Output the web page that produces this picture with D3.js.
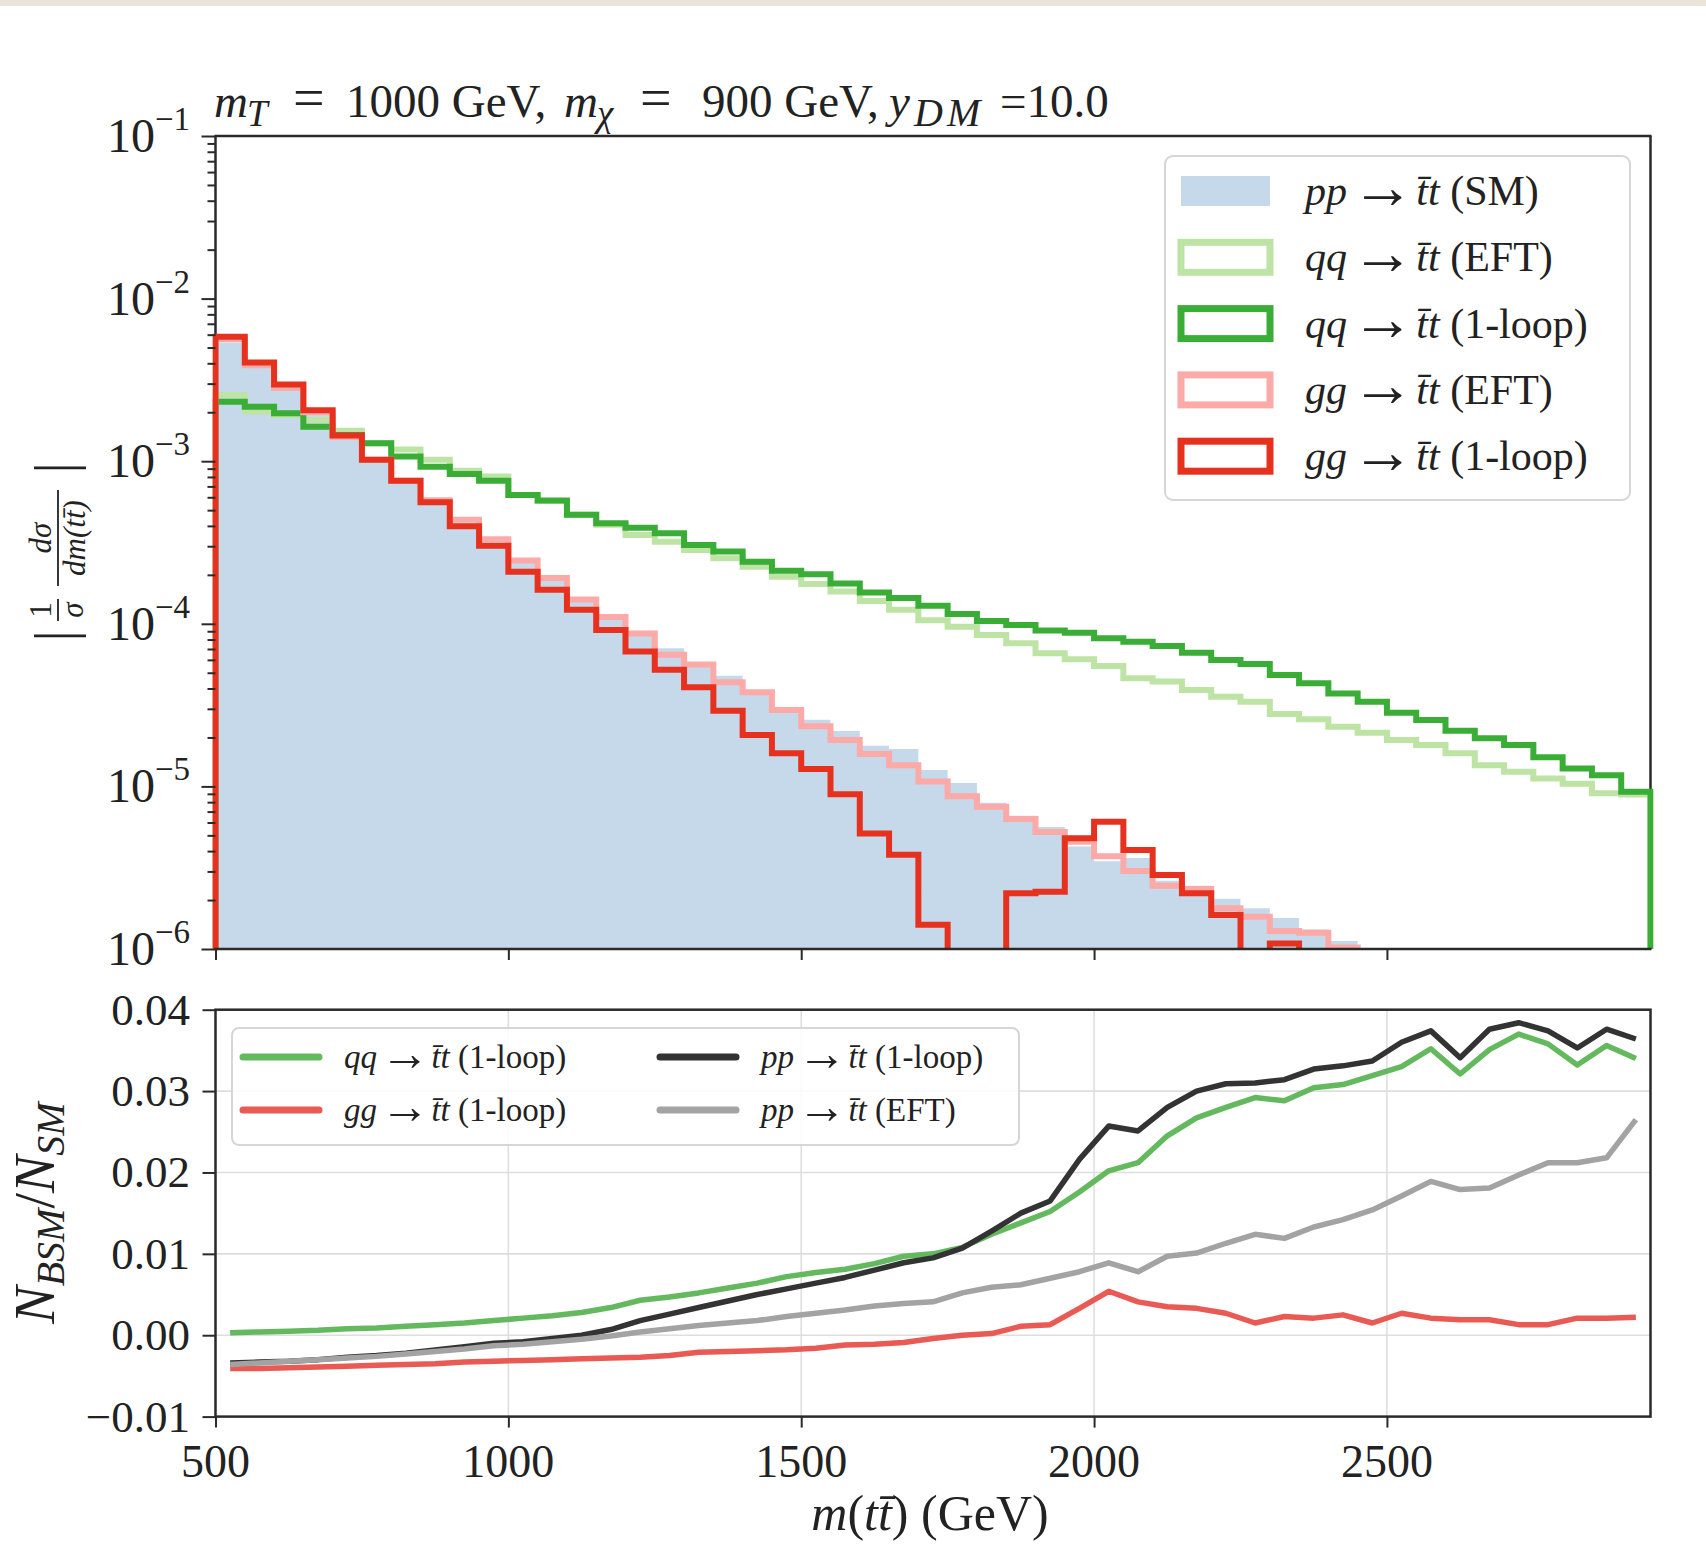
<!DOCTYPE html>
<html>
<head>
<meta charset="utf-8">
<script src="https://cdn.jsdelivr.net/npm/d3@7"></script>
<style>
  body { margin: 0; background: #ffffff; }
  svg { display: block; }
  text { font-family: "Liberation Serif", "DejaVu Serif", serif; fill: #222; }
  .it { font-style: italic; }
</style>
</head>
<body>
<svg id="chart" width="1706" height="1565"></svg>
<script>
// m(tt) binning: 50 GeV bins from 500 to 2950 GeV
const binEdges = d3.range(500, 2951, 50);
const binCenters = d3.range(525, 2950, 50);

// Normalised distributions |1/sigma dsigma/dm(tt)| per bin (0 = empty bin)
const smHist = [5.37e-3, 3.89e-3, 2.82e-3, 2.00e-3, 1.38e-3, 1.00e-3, 7.41e-4, 5.50e-4, 4.17e-4, 3.16e-4,
  2.40e-4, 1.86e-4, 1.41e-4, 1.12e-4, 8.71e-5, 7.08e-5, 5.62e-5, 4.79e-5, 3.80e-5, 3.02e-5,
  2.57e-5, 2.19e-5, 1.78e-5, 1.70e-5, 1.26e-5, 1.05e-5, 7.94e-6, 6.61e-6, 5.62e-6, 4.27e-6,
  3.47e-6, 3.63e-6, 2.63e-6, 2.45e-6, 2.04e-6, 1.78e-6, 1.55e-6, 1.32e-6, 1.12e-6, 0,
  0, 0, 0, 0, 0, 0, 0, 0, 0];
const qqEFT = [2.55e-3, 2.02e-3, 1.92e-3, 1.79e-3, 1.54e-3, 1.29e-3, 1.18e-3, 1.02e-3, 8.75e-4, 8.04e-4,
  6.19e-4, 5.69e-4, 4.68e-4, 4.07e-4, 3.52e-4, 3.20e-4, 2.84e-4, 2.53e-4, 2.24e-4, 1.95e-4,
  1.76e-4, 1.58e-4, 1.38e-4, 1.22e-4, 1.05e-4, 9.59e-5, 8.53e-5, 7.59e-5, 6.59e-5, 6.05e-5,
  5.50e-5, 4.62e-5, 4.41e-5, 3.92e-5, 3.56e-5, 3.32e-5, 2.79e-5, 2.59e-5, 2.33e-5, 2.14e-5,
  1.93e-5, 1.80e-5, 1.60e-5, 1.35e-5, 1.23e-5, 1.12e-5, 1.04e-5, 9.06e-6, 8.91e-6];
const qqLoop = [2.32e-3, 2.16e-3, 1.97e-3, 1.63e-3, 1.45e-3, 1.29e-3, 1.07e-3, 9.25e-4, 8.34e-4, 7.59e-4,
  6.19e-4, 5.74e-4, 4.69e-4, 4.15e-4, 3.89e-4, 3.60e-4, 3.05e-4, 2.78e-4, 2.41e-4, 2.12e-4,
  2.02e-4, 1.77e-4, 1.56e-4, 1.44e-4, 1.29e-4, 1.15e-4, 1.04e-4, 9.84e-5, 9.08e-5, 8.81e-5,
  8.15e-5, 7.76e-5, 7.29e-5, 6.64e-5, 5.98e-5, 5.65e-5, 4.84e-5, 4.31e-5, 3.73e-5, 3.32e-5,
  2.84e-5, 2.56e-5, 2.20e-5, 1.98e-5, 1.80e-5, 1.51e-5, 1.29e-5, 1.17e-5, 9.27e-6];
const ggEFT = [5.62e-3, 3.89e-3, 2.82e-3, 2.00e-3, 1.41e-3, 1.02e-3, 7.59e-4, 5.75e-4, 4.37e-4, 3.31e-4,
  2.45e-4, 1.91e-4, 1.41e-4, 1.10e-4, 8.71e-5, 6.46e-5, 5.62e-5, 4.37e-5, 3.80e-5, 2.95e-5,
  2.34e-5, 1.93e-5, 1.58e-5, 1.35e-5, 1.07e-5, 8.71e-6, 7.50e-6, 6.31e-6, 5.25e-6, 4.57e-6,
  3.72e-6, 3.02e-6, 2.45e-6, 2.34e-6, 1.78e-6, 1.58e-6, 1.29e-6, 1.26e-6, 1.02e-6, 0,
  0, 0, 0, 0, 0, 0, 0, 0, 0];
const ggLoop = [5.83e-3, 4.04e-3, 2.96e-3, 2.06e-3, 1.44e-3, 1.02e-3, 7.59e-4, 5.60e-4, 3.98e-4, 3.02e-4,
  2.09e-4, 1.62e-4, 1.22e-4, 9.16e-5, 6.75e-5, 5.22e-5, 4.07e-5, 2.92e-5, 2.07e-5, 1.60e-5,
  1.28e-5, 8.95e-6, 5.14e-6, 3.80e-6, 1.41e-6, 0, 0, 2.20e-6, 2.25e-6, 4.80e-6,
  6.07e-6, 4.06e-6, 2.85e-6, 2.20e-6, 1.62e-6, 0, 1.08e-6, 0, 0, 0,
  0, 0, 0, 0, 0, 0, 0, 0, 0];

// Ratio N_BSM / N_SM at bin centres
const ratioQQLoop = [0.0003, 0.0004, 0.0005, 0.0006, 0.0008, 0.0009, 0.0011, 0.0013, 0.0015, 0.0018,
  0.0021, 0.0024, 0.0028, 0.0034, 0.0043, 0.0047, 0.0052, 0.0058, 0.0064, 0.0072,
  0.0077, 0.0081, 0.0088, 0.0097, 0.0100, 0.0108, 0.0124, 0.0138, 0.0152, 0.0176,
  0.0202, 0.0212, 0.0245, 0.0267, 0.0280, 0.0292, 0.0288, 0.0304, 0.0308, 0.0319,
  0.0330, 0.0352, 0.0321, 0.0351, 0.0370, 0.0358, 0.0332, 0.0356, 0.0340];
const ratioGGLoop = [-0.0041, -0.0041, -0.0040, -0.0039, -0.0038, -0.0037, -0.0036, -0.0035, -0.0033, -0.0032,
  -0.0031, -0.0030, -0.0029, -0.0028, -0.0027, -0.0025, -0.0021, -0.0020, -0.0019, -0.0018,
  -0.0016, -0.0012, -0.0011, -0.0009, -0.0004, 0.0000, 0.0002, 0.0011, 0.0013, 0.0033,
  0.0054, 0.0041, 0.0035, 0.0033, 0.0027, 0.0015, 0.0023, 0.0021, 0.0025, 0.0015,
  0.0027, 0.0021, 0.0019, 0.0019, 0.0013, 0.0013, 0.0021, 0.0021, 0.0022];
const ratioPPLoop = [-0.0034, -0.0033, -0.0032, -0.0030, -0.0027, -0.0025, -0.0022, -0.0018, -0.0014, -0.0010,
  -0.0008, -0.0004, 0.0000, 0.0007, 0.0018, 0.0026, 0.0034, 0.0042, 0.0050, 0.0057,
  0.0064, 0.0071, 0.0080, 0.0089, 0.0095, 0.0107, 0.0128, 0.0150, 0.0165, 0.0216,
  0.0257, 0.0251, 0.0280, 0.0300, 0.0309, 0.0310, 0.0314, 0.0327, 0.0331, 0.0337,
  0.0360, 0.0374, 0.0341, 0.0376, 0.0384, 0.0374, 0.0353, 0.0376, 0.0364];
const ratioPPEFT = [-0.0036, -0.0034, -0.0032, -0.0030, -0.0028, -0.0026, -0.0023, -0.0020, -0.0017, -0.0013,
  -0.0011, -0.0008, -0.0005, -0.0001, 0.0004, 0.0008, 0.0012, 0.0015, 0.0018, 0.0023,
  0.0027, 0.0031, 0.0036, 0.0039, 0.0041, 0.0052, 0.0059, 0.0062, 0.0070, 0.0078,
  0.0089, 0.0078, 0.0097, 0.0101, 0.0113, 0.0124, 0.0119, 0.0133, 0.0142, 0.0154,
  0.0171, 0.0189, 0.0179, 0.0181, 0.0197, 0.0212, 0.0212, 0.0218, 0.0265];

// Ticks
const xTicks = [500, 1000, 1500, 2000, 2500];
const xTickLabels = ["500", "1000", "1500", "2000", "2500"];
const yTopTicks = [1e-6, 1e-5, 1e-4, 1e-3, 1e-2, 1e-1];
const yTopExponents = ["−6", "−5", "−4", "−3", "−2", "−1"];
const yBotTicks = [-0.01, 0.00, 0.01, 0.02, 0.03, 0.04];
const yBotTickLabels = ["−0.01", "0.00", "0.01", "0.02", "0.03", "0.04"];

// Colours
const C = {
  sm: "#c5d9ea", qqEFT: "#bde3a5", qqLoop: "#3aad36", ggEFT: "#fcaaa8", ggLoop: "#e7311f",
  rQQ: "#64b95f", rGG: "#e95a54", rPP: "#333333", rPPEFT: "#a3a3a3"
};

// Geometry
const L = 215.5, R = 1650.5;
const T1 = 136, B1 = 949;
const T2 = 1009.7, B2 = 1416.6;

const svg = d3.select("#chart");
svg.append("rect").attr("width", 1706).attr("height", 1565).attr("fill", "#fff");
svg.append("rect").attr("width", 1706).attr("height", 6).attr("fill", "#ebe5d9");

const x = d3.scaleLinear().domain([500, 2950]).range([L, R]);
const yTop = d3.scaleLog().domain([1e-6, 1e-1]).range([B1, T1]);
const yBot = d3.scaleLinear().domain([-0.01, 0.04]).range([B2, T2]);

const defs = svg.append("defs");
defs.append("clipPath").attr("id", "clipTop").append("rect")
  .attr("x", L - 3).attr("y", T1).attr("width", R - L + 6).attr("height", B1 - T1);
defs.append("clipPath").attr("id", "clipBot").append("rect")
  .attr("x", L).attr("y", T2).attr("width", R - L).attr("height", B2 - T2);

// ---------- Upper panel ----------
const spineStyle = g => g.attr("stroke", "#2a2a2a").attr("stroke-width", 2.5).attr("fill", "none");

// left / right spines sit below the histograms
svg.append("line").attr("x1", L).attr("x2", L).attr("y1", T1).attr("y2", B1).call(spineStyle);
svg.append("line").attr("x1", R).attr("x2", R).attr("y1", T1).attr("y2", B1).call(spineStyle);

function stepPoints(vals) {
  const low = B1 + 20;
  const yv = v => (v > 0 ? yTop(v) : low);
  const pts = [[x(binEdges[0]), low]];
  vals.forEach((v, i) => {
    pts.push([x(binEdges[i]), yv(v)], [x(binEdges[i + 1]), yv(v)]);
  });
  pts.push([x(binEdges[vals.length]), low]);
  return pts;
}

const hg = svg.append("g").attr("clip-path", "url(#clipTop)");
hg.append("path").attr("d", d3.line()(stepPoints(smHist)) + "Z").attr("fill", C.sm).attr("stroke", "none");
[[qqEFT, C.qqEFT], [qqLoop, C.qqLoop], [ggEFT, C.ggEFT], [ggLoop, C.ggLoop]].forEach(([vals, col]) => {
  hg.append("path").attr("d", d3.line()(stepPoints(vals)))
    .attr("fill", "none").attr("stroke", col).attr("stroke-width", 6).attr("stroke-linejoin", "miter");
});

svg.append("line").attr("x1", L - 1).attr("x2", R + 1).attr("y1", T1).attr("y2", T1).call(spineStyle);
svg.append("line").attr("x1", L - 1).attr("x2", R + 1).attr("y1", B1).attr("y2", B1).call(spineStyle);

// log y axis: major + minor ticks
const minorTicks = [];
yTopTicks.slice(0, -1).forEach(t => { for (let k = 2; k <= 9; k++) minorTicks.push(t * k); });
const tickStyle = g => {
  g.select(".domain").remove();
  g.selectAll(".tick line").attr("stroke", "#2a2a2a").attr("stroke-width", 2);
  g.selectAll(".tick text").remove();
};
svg.append("g").attr("transform", `translate(${L},0)`)
  .call(d3.axisLeft(yTop).tickValues(minorTicks).tickSize(8).tickFormat(""))
  .call(tickStyle);
svg.append("g").attr("transform", `translate(${L},0)`)
  .call(d3.axisLeft(yTop).tickValues(yTopTicks).tickSize(14).tickFormat(""))
  .call(tickStyle);
svg.append("g").attr("transform", `translate(0,${B1})`)
  .call(d3.axisBottom(x).tickValues(xTicks).tickSize(11).tickFormat(""))
  .call(tickStyle);

yTopTicks.forEach((t, i) => {
  const tx = svg.append("text").attr("x", 190).attr("y", yTop(t) + 16)
    .attr("text-anchor", "end").attr("font-size", 48);
  tx.append("tspan").text("10");
  tx.append("tspan").attr("dy", -22).attr("font-size", 33).text(yTopExponents[i]);
});

// title, laid out in pieces with math-style spacing
const titleY = 117;
const titleParts = [
  { t: "m", x: 214, it: true },
  { t: "T", x: 247, it: true, sub: true },
  { t: "=", x: 293, eq: true },
  { t: "1000 GeV,", x: 346 },
  { t: "m", x: 564, it: true },
  { t: "χ", x: 597, it: true, sub: true },
  { t: "=", x: 640, eq: true },
  { t: "900 GeV,", x: 702 },
  { t: "y", x: 889, it: true },
  { t: "DM", x: 914, it: true, sub: true, ls: 4, fs: 40 },
  { t: "=10.0", x: 1000 }
];
const tg = svg.append("g");
titleParts.forEach(p => {
  tg.append("text").attr("x", p.x).attr("y", titleY + (p.sub ? 9 : 0))
    .attr("font-size", p.fs || (p.sub ? 37 : (p.eq ? 56 : 47))).attr("class", p.it ? "it" : null)
    .attr("letter-spacing", p.ls || null)
    .text(p.t);
});

// y label (upper): | 1/sigma dsigma/dm(tt) |
const yl = svg.append("g").attr("transform", "translate(58,552) rotate(-90)");
yl.append("text").attr("x", -84).attr("y", 16).attr("text-anchor", "middle").attr("font-size", 56).text("|");
yl.append("text").attr("x", 84).attr("y", 16).attr("text-anchor", "middle").attr("font-size", 56).text("|");
yl.append("text").attr("x", -58).attr("y", -7).attr("text-anchor", "middle").attr("font-size", 31).text("1");
yl.append("text").attr("x", -58).attr("y", 25).attr("text-anchor", "middle").attr("font-size", 31).attr("class", "it").text("σ");
yl.append("line").attr("x1", -69).attr("x2", -47).attr("y1", 0).attr("y2", 0).attr("stroke", "#222").attr("stroke-width", 1.8);
yl.append("text").attr("x", 14).attr("y", -7).attr("text-anchor", "middle").attr("font-size", 31).attr("class", "it").text("dσ");
yl.append("text").attr("x", 14).attr("y", 27).attr("text-anchor", "middle").attr("font-size", 31).attr("class", "it").text("dm(tt\u0304)");
yl.append("line").attr("x1", -34).attr("x2", 62).attr("y1", 0).attr("y2", 0).attr("stroke", "#222").attr("stroke-width", 1.8);

// "a → t̄t (b)" label; the arrow glyph is enlarged to a long, thin math-style arrow
function processLabel(sel, a, b, size) {
  const k = 1.5, drop = size * 0.06;
  sel.append("tspan").attr("class", "it").text(a);
  sel.append("tspan").attr("dx", size * 0.1).attr("font-size", size * k).attr("dy", drop).text("→");
  sel.append("tspan").attr("dx", size * 0.05).attr("dy", -drop).attr("class", "it").text("t\u0304t");
  sel.append("tspan").text(" " + b);
}

// legend (upper)
const lg1 = svg.append("g");
lg1.append("rect").attr("x", 1165).attr("y", 156).attr("width", 465).attr("height", 344).attr("rx", 8)
  .attr("fill", "#fff").attr("fill-opacity", 0.85).attr("stroke", "#d6d6d6").attr("stroke-width", 2);
const leg1 = [
  { kind: "fill", col: C.sm, a: "pp", b: "(SM)" },
  { kind: "line", col: C.qqEFT, a: "qq", b: "(EFT)" },
  { kind: "line", col: C.qqLoop, a: "qq", b: "(1-loop)" },
  { kind: "line", col: C.ggEFT, a: "gg", b: "(EFT)" },
  { kind: "line", col: C.ggLoop, a: "gg", b: "(1-loop)" }
];
leg1.forEach((d, i) => {
  const cy = 191 + i * 66.3;
  if (d.kind === "fill") {
    lg1.append("rect").attr("x", 1181).attr("y", cy - 15).attr("width", 89).attr("height", 30).attr("fill", d.col);
  } else {
    lg1.append("rect").attr("x", 1181).attr("y", cy - 15).attr("width", 89).attr("height", 30)
      .attr("fill", "none").attr("stroke", d.col).attr("stroke-width", 7);
  }
  const t = lg1.append("text").attr("x", 1305).attr("y", cy + 14).attr("font-size", 42);
  processLabel(t, d.a, d.b, 42);
});

// ---------- Lower panel ----------
const grid = svg.append("g");
xTicks.slice(1).forEach(t => grid.append("line").attr("x1", x(t)).attr("x2", x(t)).attr("y1", T2).attr("y2", B2)
  .attr("stroke", "#dedede").attr("stroke-width", 1.6));
yBotTicks.slice(1, -1).forEach(t => grid.append("line").attr("x1", L).attr("x2", R).attr("y1", yBot(t)).attr("y2", yBot(t))
  .attr("stroke", "#dedede").attr("stroke-width", 1.6));

const rl = svg.append("g").attr("clip-path", "url(#clipBot)");
const ratioLine = d3.line().x((d, i) => x(binCenters[i])).y(d => yBot(d));
[[ratioQQLoop, C.rQQ], [ratioGGLoop, C.rGG], [ratioPPLoop, C.rPP], [ratioPPEFT, C.rPPEFT]].forEach(([vals, col]) => {
  rl.append("path").attr("d", ratioLine(vals)).attr("fill", "none").attr("stroke", col)
    .attr("stroke-width", 5.5).attr("stroke-linejoin", "round").attr("stroke-linecap", "butt");
});

svg.append("rect").attr("x", L).attr("y", T2).attr("width", R - L).attr("height", B2 - T2).call(spineStyle);

svg.append("g").attr("transform", `translate(${L},0)`)
  .call(d3.axisLeft(yBot).tickValues(yBotTicks).tickSize(13).tickFormat(""))
  .call(tickStyle);
svg.append("g").attr("transform", `translate(0,${B2})`)
  .call(d3.axisBottom(x).tickValues(xTicks).tickSize(11).tickFormat(""))
  .call(tickStyle);

yBotTicks.forEach((t, i) => {
  svg.append("text").attr("x", 190).attr("y", yBot(t) + 15).attr("text-anchor", "end")
    .attr("font-size", 45).text(yBotTickLabels[i]);
});
xTicks.forEach((t, i) => {
  svg.append("text").attr("x", x(t)).attr("y", B2 + 60).attr("text-anchor", "middle")
    .attr("font-size", 46).text(xTickLabels[i]);
});

// axis titles (lower)
const xl = svg.append("text").attr("x", 930).attr("y", 1530).attr("text-anchor", "middle").attr("font-size", 50);
xl.append("tspan").attr("class", "it").text("m");
xl.append("tspan").text("(");
xl.append("tspan").attr("class", "it").text("tt\u0304");
xl.append("tspan").text(") (GeV)");

const yl2 = svg.append("text").attr("transform", "translate(54,1213) rotate(-90)")
  .attr("text-anchor", "middle").attr("font-size", 56);
yl2.append("tspan").attr("class", "it").text("N");
yl2.append("tspan").attr("class", "it").attr("dy", 10).attr("font-size", 40).text("BSM");
yl2.append("tspan").attr("dy", -10).text("/");
yl2.append("tspan").attr("class", "it").text("N");
yl2.append("tspan").attr("class", "it").attr("dy", 10).attr("font-size", 40).text("SM");

// legend (lower)
const lg2 = svg.append("g");
lg2.append("rect").attr("x", 232).attr("y", 1028).attr("width", 787).attr("height", 117).attr("rx", 7)
  .attr("fill", "#fff").attr("fill-opacity", 0.85).attr("stroke", "#d6d6d6").attr("stroke-width", 2);
const leg2 = [
  { col: C.rQQ, a: "qq", b: "(1-loop)", hx: 243, tx: 344, cy: 1057 },
  { col: C.rGG, a: "gg", b: "(1-loop)", hx: 243, tx: 344, cy: 1110 },
  { col: C.rPP, a: "pp", b: "(1-loop)", hx: 660, tx: 761, cy: 1057 },
  { col: C.rPPEFT, a: "pp", b: "(EFT)", hx: 660, tx: 761, cy: 1110 }
];
leg2.forEach(d => {
  lg2.append("line").attr("x1", d.hx).attr("x2", d.hx + 76).attr("y1", d.cy).attr("y2", d.cy)
    .attr("stroke", d.col).attr("stroke-width", 7).attr("stroke-linecap", "round");
  const t = lg2.append("text").attr("x", d.tx).attr("y", d.cy + 11).attr("font-size", 33);
  processLabel(t, d.a, d.b, 33);
});
</script>
</body>
</html>
